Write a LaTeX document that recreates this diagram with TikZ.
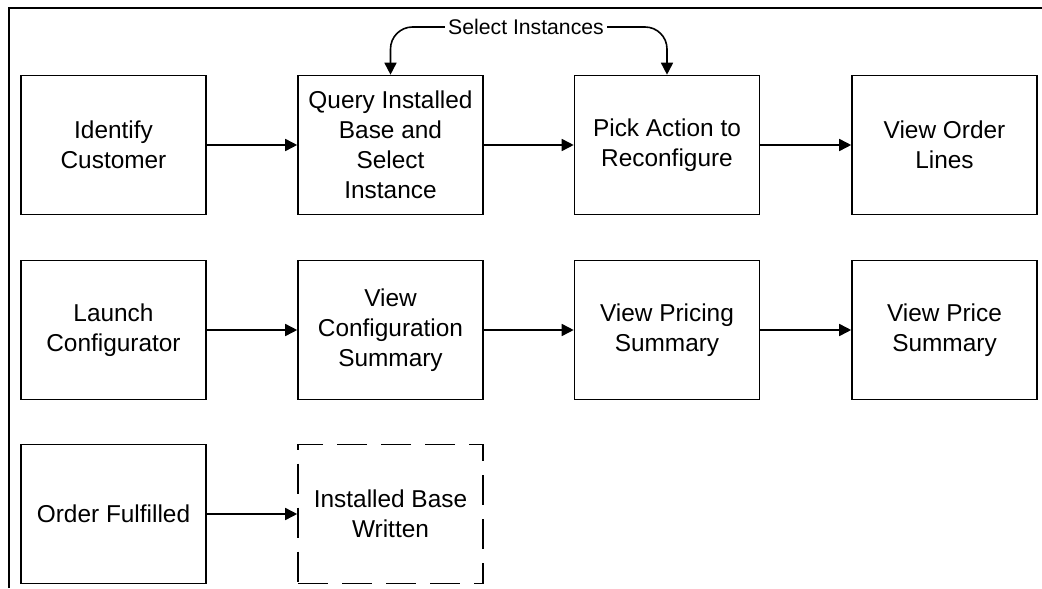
\documentclass[tikz,border=0pt]{standalone}
\usepackage{fontspec}
\setmainfont{Liberation Sans}
\usetikzlibrary{arrows.meta}
\begin{document}
\begin{tikzpicture}[x=0.5pt,y=-0.5pt,
  box/.style={draw, line width=0.8pt, minimum width=92.5pt, minimum height=69.5pt,
    align=center, inner sep=0pt, font=\fontsize{12.2}{15}\selectfont},
  dbox/.style={box, dash pattern=on 15pt off 7pt},
  arr/.style={-{Triangle[length=6pt,width=6pt]}, line width=0.8pt},
  lbl/.style={inner sep=1.5pt, font=\fontsize{10.6}{12}\selectfont}]
\useasboundingbox (0,0) rectangle (1042,588);
% outer frame
\draw[line width=1.2pt] (9,588) -- (9,8) -- (1042,8);

% first row
\node[box] (idc) at (113.5,145) {Identify\\Customer};
\node[box] (qib) at (390.5,145) {Query Installed\\Base and\\Select\\Instance};
\node[box] (par) at (667,145) {Pick Action to\\Reconfigure};
\node[box] (vol) at (944.5,145) {View Order\\Lines};

% second row
\node[box] (lcf) at (113.5,330) {Launch\\Configurator};
\node[box] (vcs) at (390.5,330) {View\\Configuration\\Summary};
\node[box] (vps) at (667,330) {View Pricing\\Summary};
\node[box] (vprs) at (944.5,330) {View Price\\Summary};

% third row
\node[box] (ofl) at (113.5,514) {Order Fulfilled};
\node[dbox] (ibw) at (390.5,514) {Installed Base\\Written};

% connectors
\draw[arr] (idc) -- (qib);
\draw[arr] (qib) -- (par);
\draw[arr] (par) -- (vol);
\draw[arr] (lcf) -- (vcs);
\draw[arr] (vcs) -- (vps);
\draw[arr] (vps) -- (vprs);
\draw[arr] (ofl) -- (ibw);

% loop label between the two selection steps
\node[lbl] (sel) at (526,27) {Select Instances};
\draw[arr, rounded corners=11pt] (sel.west) -| (qib.north);
\draw[arr, rounded corners=11pt] (sel.east) -| (par.north);
\end{tikzpicture}
\end{document}
